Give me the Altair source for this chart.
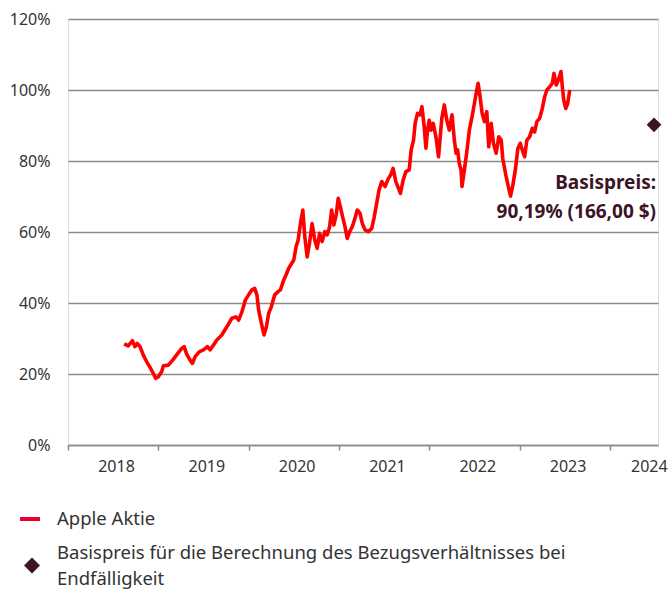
import altair as alt
import pandas as pd

FONT = "Noto Sans"
GRID = "#8a8a8a"
TEXT = "#333333"
MAROON = "#3c1428"

# Apple share price, in % of the reference price (decimal year, value)
years = [
    2018.622, 2018.667, 2018.714, 2018.741, 2018.767, 2018.797, 2018.833, 2018.870, 2018.908, 2018.944,
    2018.970, 2019.000, 2019.037, 2019.056, 2019.111, 2019.159, 2019.203, 2019.259, 2019.286, 2019.314,
    2019.352, 2019.378, 2019.408, 2019.456, 2019.500, 2019.544, 2019.574, 2019.611, 2019.648, 2019.703,
    2019.759, 2019.814, 2019.859, 2019.889, 2019.926, 2019.963, 2020.000, 2020.037, 2020.067, 2020.092,
    2020.111, 2020.141, 2020.170, 2020.197, 2020.222, 2020.252, 2020.289, 2020.326, 2020.352, 2020.389,
    2020.414, 2020.444, 2020.500, 2020.526, 2020.548, 2020.574, 2020.600, 2020.622, 2020.648, 2020.674,
    2020.703, 2020.733, 2020.759, 2020.786, 2020.814, 2020.844, 2020.870, 2020.897, 2020.919, 2020.944,
    2020.970, 2020.992, 2021.019, 2021.044, 2021.067, 2021.092, 2021.119, 2021.148, 2021.178, 2021.203,
    2021.233, 2021.259, 2021.289, 2021.326, 2021.363, 2021.389, 2021.414, 2021.444, 2021.474, 2021.511,
    2021.548, 2021.574, 2021.600, 2021.630, 2021.659, 2021.681, 2021.711, 2021.741, 2021.778, 2021.800,
    2021.826, 2021.844, 2021.870, 2021.897, 2021.919, 2021.944, 2021.963, 2021.981, 2022.000, 2022.019,
    2022.044, 2022.074, 2022.103, 2022.139, 2022.167, 2022.194, 2022.222, 2022.252, 2022.278, 2022.297,
    2022.314, 2022.333, 2022.352, 2022.363, 2022.389, 2022.414, 2022.444, 2022.474, 2022.500, 2022.526,
    2022.541, 2022.563, 2022.586, 2022.611, 2022.637, 2022.659, 2022.686, 2022.711, 2022.741, 2022.770,
    2022.797, 2022.814, 2022.848, 2022.878, 2022.900, 2022.926, 2022.956, 2022.981, 2023.008, 2023.030,
    2023.056, 2023.081, 2023.111, 2023.141, 2023.167, 2023.192, 2023.222, 2023.252, 2023.278, 2023.303,
    2023.333, 2023.363, 2023.381, 2023.407, 2023.437, 2023.459, 2023.474, 2023.489, 2023.511, 2023.533,
    2023.556,
]
values = [
    28.5, 27.9, 29.4, 27.7, 28.6, 27.7, 25.4, 23.5, 21.9, 20.2,
    18.8, 19.2, 20.6, 22.3, 22.5, 23.9, 25.4, 27.2, 27.7, 25.6,
    23.9, 23.0, 24.9, 26.3, 26.8, 27.7, 26.8, 28.2, 29.6, 31.0,
    33.3, 35.7, 36.1, 35.2, 37.5, 40.8, 42.3, 43.7, 44.1, 42.3,
    38.0, 34.3, 31.0, 33.3, 37.1, 39.0, 42.3, 43.2, 43.7, 46.5,
    47.9, 49.8, 52.1, 55.9, 57.7, 62.4, 66.2, 58.7, 53.0, 56.8,
    62.4, 57.7, 55.4, 59.6, 57.3, 60.1, 59.2, 61.5, 66.2, 62.0,
    64.8, 69.5, 66.7, 63.9, 61.5, 58.2, 60.1, 61.5, 63.9, 66.2,
    65.3, 62.4, 60.6, 60.1, 61.0, 64.0, 67.5, 71.8, 74.2, 72.8,
    75.1, 76.1, 77.9, 74.2, 72.3, 70.9, 74.6, 77.0, 77.5, 83.1,
    85.9, 90.6, 93.4, 93.0, 95.3, 89.7, 83.6, 88.7, 91.5, 88.7,
    90.6, 86.8, 81.2, 92.0, 95.8, 91.5, 88.7, 93.0, 85.9, 82.2,
    83.1, 79.3, 77.5, 72.8, 77.5, 82.2, 88.7, 92.5, 96.2, 100.0,
    101.9, 98.1, 93.4, 91.1, 93.9, 84.0, 90.6, 85.0, 82.2, 86.8,
    85.9, 80.7, 76.0, 72.5, 70.1, 73.2, 78.0, 83.5, 85.0, 83.1,
    81.2, 85.9, 86.8, 89.2, 88.2, 91.1, 92.0, 94.8, 98.1, 100.0,
    100.9, 101.9, 104.7, 101.4, 103.3, 105.2, 100.9, 97.2, 94.8, 96.2,
    100.0,
]

legend_names = ["Apple Aktie",
                "Basispreis für die Berechnung des Bezugsverhältnisses bei Endfälligkeit"]
legend_lines = ["Basispreis für die Berechnung des Bezugsverhältnisses bei", "Endfälligkeit"]
legend_colors = ["#e6002e", MAROON]

strike_year = [2024.489]
strike_value = [90.19]
strike_label = ["Basispreis:\n90,19% (166,00 $)"]

x_ticks = [2018, 2019, 2020, 2021, 2022, 2023, 2024]
y_ticks = [0, 20, 40, 60, 80, 100, 120]
x_domain = [2018, 2024.533]

df = pd.DataFrame({"year": years, "value": values})
strike_df = pd.DataFrame({"year": strike_year, "value": strike_value, "label": strike_label})
legend_df = pd.DataFrame({"name": legend_names})

x_scale = alt.Scale(domain=x_domain, nice=False, zero=False)
y_scale = alt.Scale(domain=[0, 120], nice=False)

x_axis = alt.Axis(
    values=x_ticks, format="d", title=None, grid=False,
    tickSize=5, tickColor=GRID, tickWidth=1.5,
    domainColor=GRID, domainWidth=1.5,
    labelOffset={"condition": {"test": "datum.value == 2024", "value": 39}, "value": 48},
    labelPadding=8, labelFont=FONT, labelFontSize=16, labelColor=TEXT,
    labelAlign="center", labelFlush=False, labelOverlap=False, labelBound=False,
)
y_axis = alt.Axis(
    values=y_ticks, labelExpr="datum.value + '%'", title=None,
    grid=True, gridColor=GRID, gridWidth=1.5,
    domain=False, ticks=False, tickSize=0, labelPadding=18,
    labelFont=FONT, labelFontSize=16, labelColor=TEXT,
)

line = alt.Chart(df).mark_line(color="#ff0000", strokeWidth=3.6, strokeJoin="round").encode(
    x=alt.X("year:Q", scale=x_scale, axis=x_axis),
    y=alt.Y("value:Q", scale=y_scale, axis=y_axis),
)

diamond = alt.Chart(strike_df).mark_point(
    shape="diamond", filled=True, size=216, opacity=1, strokeWidth=0, color=MAROON
).encode(
    x=alt.X("year:Q", scale=x_scale),
    y=alt.Y("value:Q", scale=y_scale),
)

text = alt.Chart(strike_df).mark_text(
    align="right", baseline="top", dx=2, dy=49, lineBreak="\n", lineHeight=29,
    font=FONT, fontSize=19, fontWeight="bold", color=MAROON,
).encode(
    x=alt.X("year:Q", scale=x_scale),
    y=alt.Y("value:Q", scale=y_scale),
    text="label:N",
)

# legend only (no marks drawn): entries come from the explicit scale domains
label_expr = ("datum.label == '" + legend_names[0] + "' ? datum.label : ['"
              + legend_lines[0] + "', '" + legend_lines[1] + "']")
legend = alt.Legend(
    title=None, orient="none", legendX=-48, legendY=490, direction="vertical",
    symbolSize=400, symbolStrokeWidth=0, symbolOpacity=1,
    labelFont=FONT, labelFontSize=18.5, labelColor=TEXT, labelLimit=700,
    labelOffset=17, rowPadding=14, padding=0, labelExpr=label_expr,
)
dash_path = "M-1,-0.2L1,-0.2L1,0.2L-1,0.2Z"
# diamond symbol centred between the two label lines
legend_diamond_path = "M0.2,0.45L1.0,1.25L0.2,2.05L-0.6,1.25Z"

legend_layer = alt.Chart(legend_df).mark_point(filled=True, opacity=1, strokeWidth=0).encode(
    color=alt.Color("name:N", scale=alt.Scale(domain=legend_names, range=legend_colors), legend=legend),
    shape=alt.Shape("name:N", scale=alt.Scale(domain=legend_names, range=[dash_path, legend_diamond_path]), legend=legend),
).transform_filter("false")

chart = alt.layer(line, diamond, text, legend_layer).properties(
    width=590, height=426,
    autosize=alt.AutoSizeParams(type="none"),
    padding={"left": 68, "top": 19, "right": 12, "bottom": 144},
).configure_view(stroke=None).configure(
    font=FONT, style={"guide-label": {"lineHeight": 26}}
)

chart.save("out.html", embed_options={"renderer": "svg", "actions": False})
